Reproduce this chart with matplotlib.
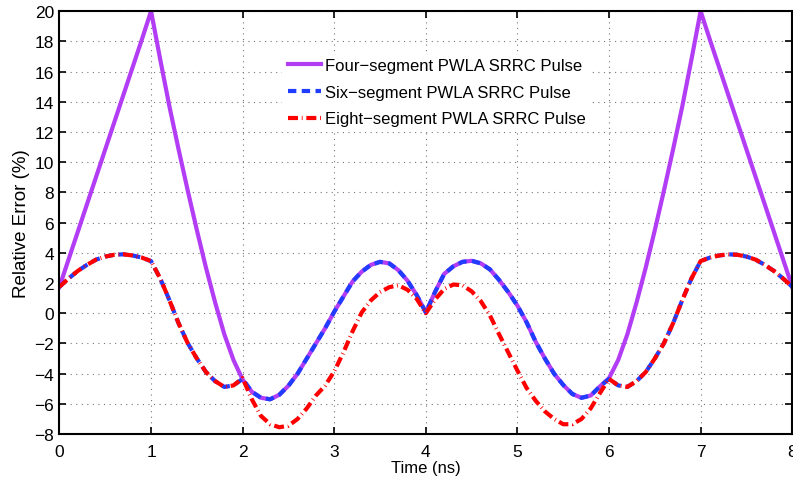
import numpy as np
import matplotlib.pyplot as plt

plt.rcParams['font.family'] = ['Liberation Sans', 'DejaVu Sans']

# time axis (ns), 0.1 ns steps
t = np.round(np.arange(0, 8.01, 0.1), 1)

# Four-segment PWLA SRRC pulse, relative error (%)
four_seg = [1.75, 3.57, 5.39, 7.21, 9.03, 10.85, 12.67, 14.49, 16.31, 18.13,
            20.0, 16.8, 13.7, 10.86, 8.13, 5.5, 3.0, 0.7, -1.4, -3.1,
            -4.4, -5.2, -5.6, -5.7, -5.4, -4.8, -4.0, -3.0, -2.0, -1.0,
            0.1, 1.1, 2.1, 2.75, 3.2, 3.4, 3.3, 2.85, 2.15, 1.2,
            0.05, 1.4, 2.6, 3.1, 3.4, 3.47, 3.3, 2.9, 2.2, 1.4,
            0.5, -0.6, -1.9, -3.0, -4.0, -4.75, -5.35, -5.6, -5.45, -4.85,
            -4.3, -3.1, -1.4, 0.7, 3.0, 5.5, 8.13, 10.86, 13.7, 16.8,
            20.0, 18.13, 16.31, 14.49, 12.67, 10.85, 9.03, 7.21, 5.39, 3.57,
            1.75]

# Six-segment PWLA SRRC pulse
six_seg = [1.75, 2.3, 2.8, 3.2, 3.55, 3.75, 3.87, 3.9, 3.82, 3.68,
           3.45, 2.3, 0.87, -0.66, -1.98, -3.0, -3.9, -4.5, -4.88, -4.78,
           -4.35, -5.2, -5.6, -5.7, -5.4, -4.8, -4.0, -3.0, -2.0, -1.0,
           0.1, 1.1, 2.1, 2.75, 3.2, 3.4, 3.3, 2.85, 2.15, 1.2,
           0.05, 1.4, 2.6, 3.1, 3.4, 3.47, 3.3, 2.9, 2.2, 1.4,
           0.5, -0.6, -1.9, -3.0, -4.0, -4.75, -5.35, -5.6, -5.45, -4.85,
           -4.35, -4.78, -4.88, -4.5, -3.9, -3.0, -1.98, -0.66, 0.87, 2.3,
           3.45, 3.68, 3.82, 3.9, 3.87, 3.75, 3.55, 3.2, 2.8, 2.3,
           1.75]

# Eight-segment PWLA SRRC pulse
eight_seg = [1.75, 2.3, 2.8, 3.2, 3.55, 3.75, 3.87, 3.9, 3.82, 3.68,
             3.45, 2.3, 0.87, -0.66, -1.98, -3.0, -3.9, -4.5, -4.88, -4.78,
             -4.3, -5.7, -6.8, -7.35, -7.55, -7.45, -7.0, -6.3, -5.45, -4.8,
             -3.85, -2.6, -1.2, 0.05, 0.85, 1.4, 1.72, 1.85, 1.55, 0.95,
             0.0, 0.9, 1.6, 1.9, 1.85, 1.45, 0.8, -0.15, -1.4, -2.6,
             -3.8, -4.95, -5.8, -6.5, -7.0, -7.35, -7.35, -7.0, -6.3, -5.3,
             -4.35, -4.78, -4.88, -4.5, -3.9, -3.0, -1.98, -0.66, 0.87, 2.3,
             3.45, 3.68, 3.82, 3.9, 3.87, 3.75, 3.55, 3.2, 2.8, 2.3,
             1.75]

labels = ['Four\u2212segment PWLA SRRC Pulse',
          'Six\u2212segment PWLA SRRC Pulse',
          'Eight\u2212segment PWLA SRRC Pulse']

fig = plt.figure(figsize=(7.93, 4.85), dpi=100)
ax = fig.add_axes([0.075, 0.103, 0.924, 0.872])

ax.plot(t, four_seg, color='#B33CF5', linewidth=3.0, label=labels[0])
ax.plot(t, six_seg, color='#1F3CFF', linewidth=3.0, dashes=(2.0, 1.3),
        label=labels[1])
ax.plot(t, eight_seg, color='#FF0000', linewidth=3.0,
        dashes=(2.4, 0.9, 0.2, 0.9), label=labels[2])

ax.set_xlim(0, 8)
ax.set_ylim(-8, 20)
ax.set_xticks(np.arange(0, 9, 1))
ax.set_yticks(np.arange(-8, 21, 2))
ax.set_xticklabels([str(v) for v in range(0, 9)])
ax.set_yticklabels([str(v).replace('-', '\u2212') for v in range(-8, 21, 2)])

ax.grid(True, linestyle=(0, (1, 4)), color='#777777', linewidth=0.8)
ax.tick_params(direction='in', top=True, right=True, length=5, width=1.2,
               labelsize=12.5, pad=4)
ax.tick_params(axis='x', pad=7)
for s in ax.spines.values():
    s.set_linewidth(1.5)

ax.set_xlabel('Time (ns)', fontsize=12, labelpad=1)
ax.set_ylabel('Relative Error (%)', fontsize=13.5, labelpad=3)

leg = ax.legend(loc='center', bbox_to_anchor=(0.515, 0.808), fontsize=12,
                frameon=True, fancybox=False, handlelength=2.0,
                handletextpad=0.2, labelspacing=0.7, borderpad=0.35)
leg.get_frame().set_edgecolor('none')
leg.get_frame().set_facecolor('white')
leg.get_frame().set_alpha(1)

fig.savefig('out.png', dpi=100)
